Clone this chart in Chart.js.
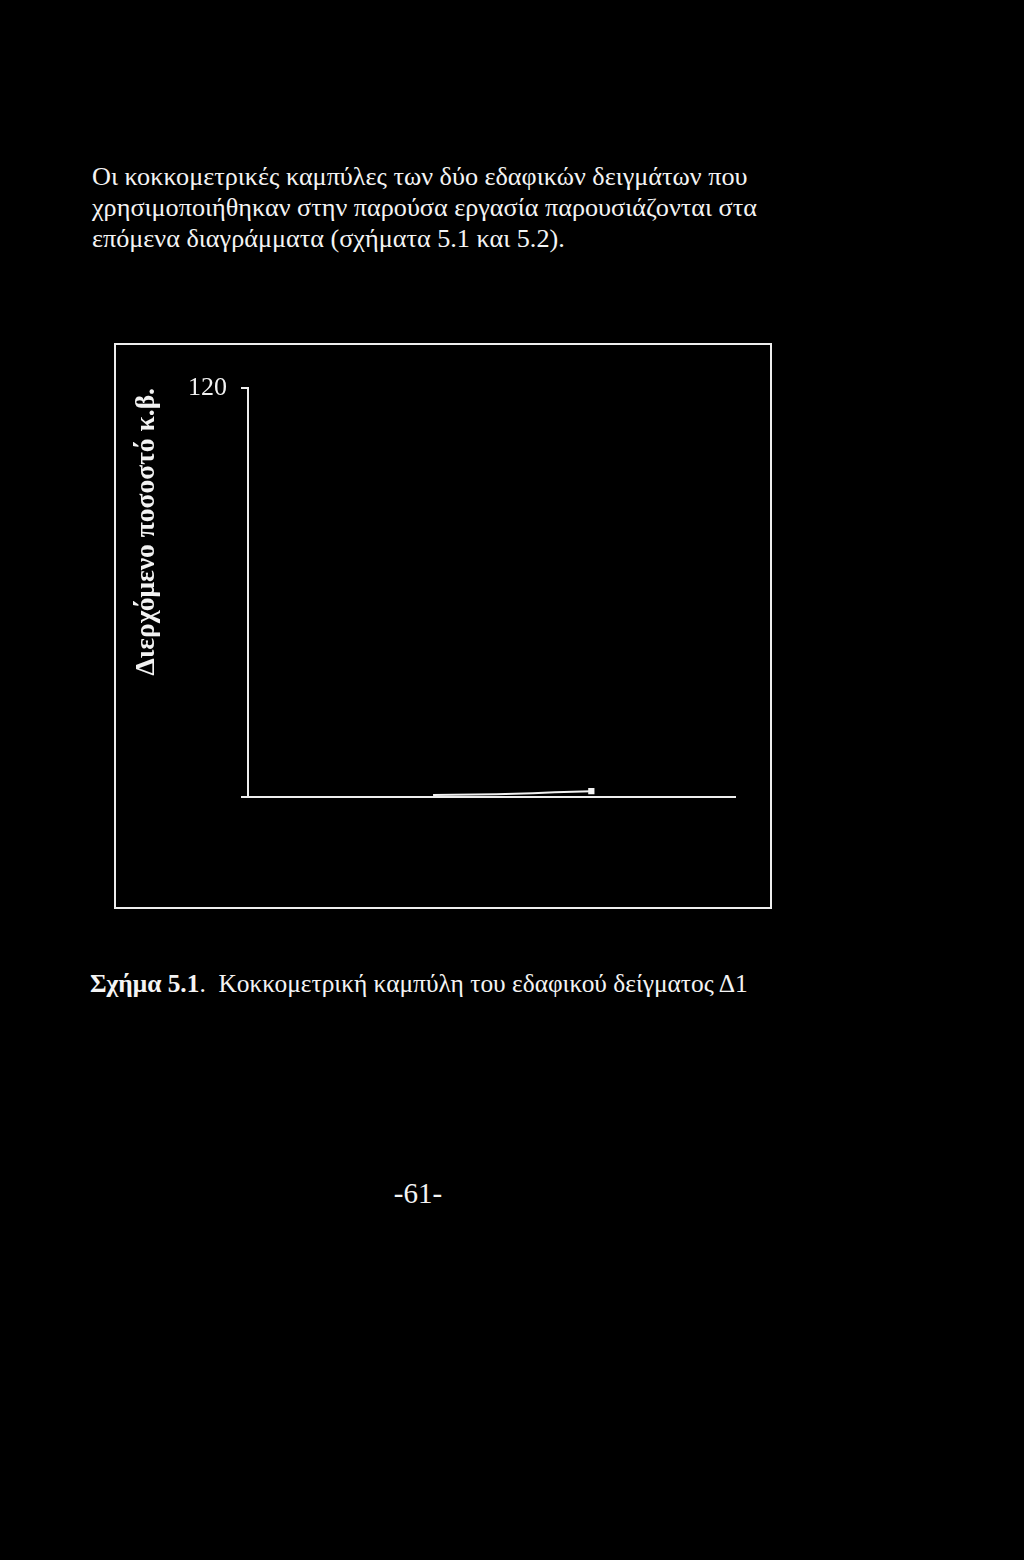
<!DOCTYPE html>
<html>
<head>
<meta charset="utf-8">
<script src="https://cdn.jsdelivr.net/npm/chart.js@4"></script>
<style>
  html, body { margin: 0; padding: 0; background: #000; }
  body { width: 1024px; height: 1560px; position: relative; overflow: hidden; color: #f4f4f4; font-family: "Liberation Serif", serif; }
  .para { position: absolute; left: 92px; top: 161px; font-size: 26.2px; line-height: 31px; white-space: nowrap; }
  .box { position: absolute; left: 114px; top: 343px; width: 654px; height: 562px; border: 2px solid #eee; }
  #chart { position: absolute; left: 0; top: 0; }
  .caption { position: absolute; left: 90px; top: 969px; font-size: 25.4px; line-height: 29px; white-space: nowrap; }
  .pagenum { position: absolute; left: 0; width: 836px; top: 1178px; text-align: center; font-size: 29px; line-height: 30px; }
</style>
</head>
<body>
<div class="para">
  Οι κοκκομετρικές καμπύλες των δύο εδαφικών δειγμάτων που<br>
  χρησιμοποιήθηκαν στην παρούσα εργασία παρουσιάζονται στα<br>
  επόμενα διαγράμματα (σχήματα 5.1 και 5.2).
</div>
<div class="box">
  <canvas id="chart" width="654" height="562"></canvas>
</div>
<div class="caption"><b>Σχήμα 5.1</b>.&nbsp; Κοκκομετρική καμπύλη του εδαφικού δείγματος Δ1</div>
<div class="pagenum">-61-</div>
<script>
// position along the (unlabelled) grain size axis, 0..100
const grainPos = [38, 51, 58.5, 63, 70.5];
// passing percentage by weight
const passing = [0.6, 0.8, 1.1, 1.4, 1.7];
const yTicks = [0, 120];
const yTitle = "Διερχόμενο ποσοστό κ.β.";

const points = grainPos.map((x, i) => ({ x: x, y: passing[i] }));

const ctx = document.getElementById("chart");
new Chart(ctx, {
  type: "line",
  data: {
    datasets: [
      {
        data: points,
        borderColor: "#f2f2f2",
        backgroundColor: "#f2f2f2",
        borderWidth: 2,
        pointStyle: "rect",
        pointRadius: (c) => (c.dataIndex === points.length - 1 ? 3 : 0),
        tension: 0,
      },
    ],
  },
  options: {
    responsive: false,
    animation: false,
    layout: { padding: { left: 10, top: 43, right: 35, bottom: 110 } },
    plugins: { legend: { display: false }, tooltip: { enabled: false } },
    scales: {
      x: {
        type: "linear",
        min: 0,
        max: 100,
        ticks: { display: false },
        grid: { display: false, drawTicks: false },
        border: { color: "#eee", width: 2 },
      },
      y: {
        min: yTicks[0],
        max: yTicks[yTicks.length - 1],
        afterBuildTicks: (axis) => {
          axis.ticks = yTicks.map((v) => ({ value: v }));
        },
        afterFit: (axis) => {
          axis.width = 122;
        },
        ticks: {
          color: "#f2f2f2",
          padding: 14,
          font: { family: "Liberation Serif", size: 26 },
          callback: (v) => (v === 0 ? "" : String(v)),
        },
        grid: { drawOnChartArea: false, tickLength: 7, color: "#eee", lineWidth: 2 },
        border: { color: "#eee", width: 2 },
        title: {
          display: true,
          text: yTitle,
          align: "end",
          color: "#f2f2f2",
          font: { family: "Liberation Serif", size: 27.5, weight: "bold" },
        },
      },
    },
  },
});
</script>
</body>
</html>
